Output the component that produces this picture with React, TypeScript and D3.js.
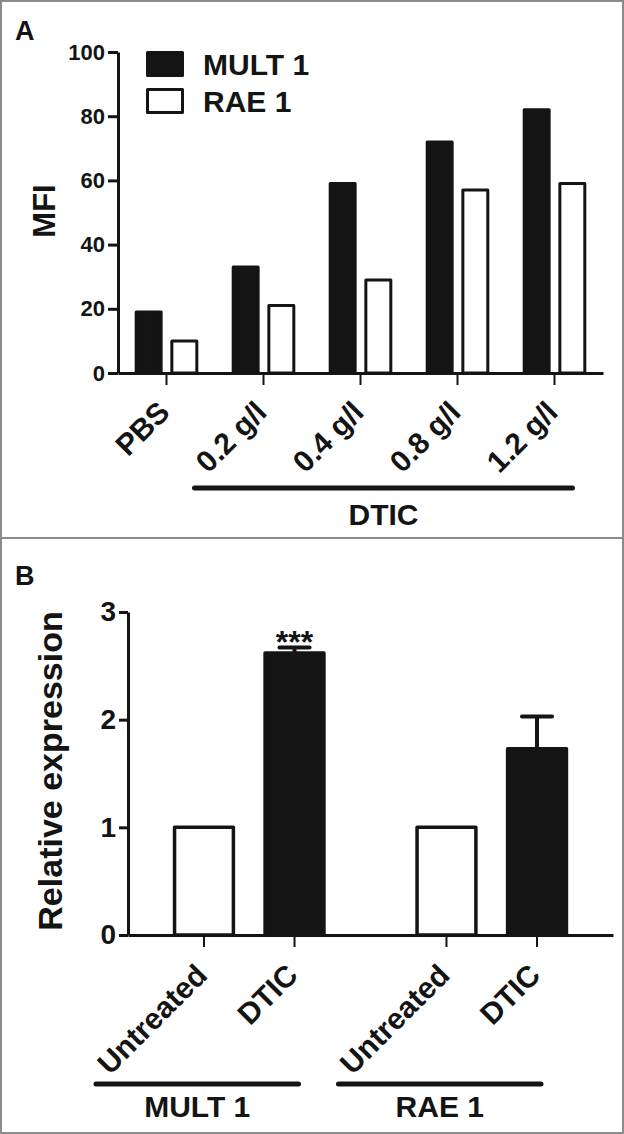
import { useEffect, useRef } from "react";
import * as d3 from "d3";
import { axisBottom, axisLeft, select, scaleBand, scaleLinear } from "d3";

// panel A: MFI by dose
const doses = ["PBS", "0.2 g/l", "0.4 g/l", "0.8 g/l", "1.2 g/l"];
const ligands = ["MULT 1", "RAE 1"];
const mult1Mfi = [19, 33, 59, 72, 82];
const rae1Mfi = [10, 21, 29, 57, 59];
const mfiTicks = [0, 20, 40, 60, 80, 100];

// panel B: relative expression
const conditions = ["Untreated", "DTIC"];
const mult1Rel = [1, 2.62];
const mult1RelErr = [0, 0.05];
const rae1Rel = [1, 1.73];
const rae1RelErr = [0, 0.3];
const relTicks = [0, 1, 2, 3];

const FONT = "'Liberation Sans', Arial, Helvetica, sans-serif";
const INK = "#141414";
const FRAME = "#8c8c8c";

interface AxisProps {
  scale: any;
  transform: string;
  values: any[];
  fontSize?: number;
  tickSize: number;
  tickWidth: number;
}

function AxisLeft({ scale, transform, values, fontSize, tickSize, tickWidth }: AxisProps) {
  const ref = useRef<SVGGElement>(null);

  useEffect(() => {
    if (!ref.current) return;
    const g = select(ref.current);
    g.call(
      axisLeft(scale)
        .tickValues(values)
        .tickFormat(d3.format("d") as any)
        .tickSize(tickSize)
        .tickSizeOuter(0)
        .tickPadding(3)
    );
    g.attr("font-size", fontSize as number)
      .attr("font-family", FONT)
      .attr("font-weight", "bold");
    g.select(".domain").attr("stroke", INK).attr("stroke-width", 3);
    g.selectAll(".tick line").attr("stroke", INK).attr("stroke-width", tickWidth);
    g.selectAll(".tick text").attr("fill", INK);
  }, [scale, values, fontSize, tickSize, tickWidth]);

  return <g ref={ref} transform={transform} />;
}

function AxisBottom({ scale, transform, values, tickSize, tickWidth }: AxisProps) {
  const ref = useRef<SVGGElement>(null);

  useEffect(() => {
    if (!ref.current) return;
    const g = select(ref.current);
    g.call(
      axisBottom(scale)
        .tickValues(values)
        .tickSize(tickSize)
        .tickSizeOuter(0)
        .tickFormat(() => "")
    );
    g.select(".domain").attr("stroke", INK).attr("stroke-width", 3);
    g.selectAll(".tick line").attr("stroke", INK).attr("stroke-width", tickWidth);
    g.selectAll(".tick text").remove();
  }, [scale, values, tickSize, tickWidth]);

  return <g ref={ref} transform={transform} />;
}

function PanelA() {
  const yA = scaleLinear().domain([0, 100]).range([373, 52]);
  const xA = scaleBand().domain(doses).range([118, 603]).padding(0);
  const subA = scaleBand()
    .domain(ligands)
    .range([0, xA.bandwidth()])
    .paddingInner(0.3)
    .paddingOuter(0.51);

  const series = [
    { name: ligands[0], values: mult1Mfi, fill: INK },
    { name: ligands[1], values: rae1Mfi, fill: "#ffffff" },
  ];
  const mid = (d: string) => (xA(d) as number) + xA.bandwidth() / 2;
  const labelY = yA(0) + 41;
  const bracketX1 = mid(doses[1]) - 69;
  const bracketX2 = mid(doses[doses.length - 1]) + 18;

  return (
    <g>
      <text x={15} y={40} fontSize={27} fontWeight="bold" fill={INK}>
        A
      </text>
      {series.map((s) =>
        s.values.map((v, i) => (
          <rect
            key={`${s.name}-${doses[i]}`}
            x={(xA(doses[i]) as number) + (subA(s.name) as number)}
            y={yA(v)}
            width={subA.bandwidth()}
            height={yA(0) - yA(v)}
            fill={s.fill}
            stroke={INK}
            strokeWidth={3}
            strokeLinejoin="round"
          />
        ))
      )}
      <AxisBottom
        scale={xA}
        transform={`translate(0,${yA(0)})`}
        values={doses}
        tickSize={12}
        tickWidth={2}
      />
      <AxisLeft
        scale={yA}
        transform="translate(118,0)"
        values={mfiTicks}
        fontSize={22}
        tickSize={10}
        tickWidth={3}
      />
      <text
        transform="translate(55,211) rotate(-90)"
        textAnchor="middle"
        fontSize={31}
        fontWeight="bold"
        fill={INK}
      >
        MFI
      </text>
      {doses.map((d) => (
        <text
          key={d}
          transform={`translate(${mid(d) + 5},${labelY}) rotate(-45)`}
          textAnchor="end"
          fontSize={30}
          fontWeight="bold"
          fill={INK}
        >
          {d}
        </text>
      ))}
      <line
        x1={bracketX1}
        x2={bracketX2}
        y1={488}
        y2={488}
        stroke={INK}
        strokeWidth={5}
        strokeLinecap="round"
      />
      <text
        x={(bracketX1 + bracketX2) / 2}
        y={525}
        textAnchor="middle"
        fontSize={30}
        fontWeight="bold"
        fill={INK}
      >
        DTIC
      </text>
      {series.map((s, i) => (
        <g key={s.name}>
          <rect
            x={147.5}
            y={52.5 + i * 37}
            width={35}
            height={23}
            fill={s.fill}
            stroke={INK}
            strokeWidth={3}
            strokeLinejoin="round"
          />
          <text x={203} y={75 + i * 37} fontSize={30} fontWeight="bold" fill={INK}>
            {s.name}
          </text>
        </g>
      ))}
    </g>
  );
}

function PanelB() {
  const yB = scaleLinear().domain([0, 3]).range([935, 612]);
  const xB = scaleBand().domain(ligands).range([128, 613]).padding(0);
  const subB = scaleBand()
    .domain(conditions)
    .range([0, xB.bandwidth()])
    .paddingInner(0.35)
    .paddingOuter(0.514);

  const groups = [
    { name: ligands[0], values: mult1Rel, errs: mult1RelErr, stars: ["", "***"] },
    { name: ligands[1], values: rae1Rel, errs: rae1RelErr, stars: ["", ""] },
  ];
  const fills = ["#ffffff", INK];
  const cx = (g: string, c: string) =>
    (xB(g) as number) + (subB(c) as number) + subB.bandwidth() / 2;
  const labelY = yB(0) + 42;

  return (
    <g>
      <text x={15} y={585} fontSize={27} fontWeight="bold" fill={INK}>
        B
      </text>
      {groups.map((g) =>
        g.values.map((v, i) => {
          const x = cx(g.name, conditions[i]);
          const top = yB(v + g.errs[i]);
          return (
            <g key={`${g.name}-${conditions[i]}`}>
              {g.errs[i] > 0 && (
                <>
                  <line x1={x} x2={x} y1={yB(v)} y2={top} stroke={INK} strokeWidth={4} />
                  <line
                    x1={x - 15}
                    x2={x + 15}
                    y1={top}
                    y2={top}
                    stroke={INK}
                    strokeWidth={4}
                    strokeLinecap="round"
                  />
                </>
              )}
              <rect
                x={x - subB.bandwidth() / 2}
                y={yB(v)}
                width={subB.bandwidth()}
                height={yB(0) - yB(v)}
                fill={fills[i]}
                stroke={INK}
                strokeWidth={3.5}
                strokeLinejoin="round"
              />
              {g.stars[i] && (
                <text
                  x={x}
                  y={top + 5.5}
                  textAnchor="middle"
                  fontSize={32}
                  fontWeight="bold"
                  fill={INK}
                >
                  {g.stars[i]}
                </text>
              )}
              <line
                x1={x}
                x2={x}
                y1={yB(0)}
                y2={yB(0) + 12}
                stroke={INK}
                strokeWidth={2}
              />
              <text
                transform={`translate(${x + 5},${labelY}) rotate(-45)`}
                textAnchor="end"
                fontSize={30}
                fontWeight="bold"
                fill={INK}
              >
                {conditions[i]}
              </text>
            </g>
          );
        })
      )}
      <AxisBottom
        scale={xB}
        transform={`translate(0,${yB(0)})`}
        values={[]}
        tickSize={0}
        tickWidth={2}
      />
      <AxisLeft
        scale={yB}
        transform="translate(128,0)"
        values={relTicks}
        fontSize={28}
        tickSize={9}
        tickWidth={3}
      />
      <text
        transform="translate(62,771) rotate(-90)"
        textAnchor="middle"
        fontSize={34}
        fontWeight="bold"
        fill={INK}
      >
        Relative expression
      </text>
      {groups.map((g) => {
        const x1 = cx(g.name, conditions[0]) - 108;
        const x2 = cx(g.name, conditions[1]) + 4;
        return (
          <g key={`bracket-${g.name}`}>
            <line
              x1={x1}
              x2={x2}
              y1={1084}
              y2={1084}
              stroke={INK}
              strokeWidth={5}
              strokeLinecap="round"
            />
            <text
              x={(x1 + x2) / 2}
              y={1117}
              textAnchor="middle"
              fontSize={30}
              fontWeight="bold"
              fill={INK}
            >
              {g.name}
            </text>
          </g>
        );
      })}
    </g>
  );
}

export default function App() {
  return (
    <svg
      width={624}
      height={1134}
      style={{ position: "absolute", left: 0, top: 0, background: "#fff" }}
      fontFamily={FONT}
    >
      <rect x={1} y={1} width={622} height={1132} fill="#fff" stroke={FRAME} strokeWidth={2} />
      <line x1={1} x2={623} y1={538} y2={538} stroke={FRAME} strokeWidth={2} />
      <PanelA />
      <PanelB />
    </svg>
  );
}
